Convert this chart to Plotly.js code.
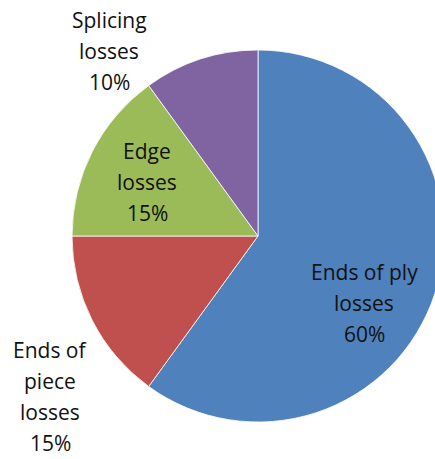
<!DOCTYPE html>
<html>
<head>
<meta charset="utf-8">
<script src="https://cdn.plot.ly/plotly-3.0.1.min.js"></script>
<style>
html,body{margin:0;padding:0;overflow:hidden;background:#fff;}
#chart{width:460px;height:459px;}
</style>
</head>
<body>
<div id="chart"></div>
<script>
const labels = ['Ends of ply losses', 'Ends of piece losses', 'Edge losses', 'Splicing losses'];
const labelLines = [['Ends of ply', 'losses'], ['Ends of', 'piece', 'losses'], ['Edge', 'losses'], ['Splicing', 'losses']];
const values = [60, 15, 15, 10];
const colors = ['#4F81BD', '#C0504D', '#9BBB59', '#8064A2'];

// label anchor positions (pixels) – layout only
const labelPos = [[364, 272], [50, 350], [147, 151], [109, 20]];
const lineGap = 31;

const W = 460, H = 459;
const annotations = [];
const total = values.reduce((a, b) => a + b, 0);
labels.forEach((lab, i) => {
  const lines = labelLines[i].concat([Math.round(values[i] / total * 100) + '%']);
  lines.forEach((t, j) => {
    annotations.push({
      xref: 'paper', yref: 'paper',
      x: (labelPos[i][0] - 72) / 372,
      y: 1 - ((labelPos[i][1] + j * lineGap) - 50) / 372,
      text: t, showarrow: false,
      xanchor: 'center', yanchor: 'middle',
      borderpad: 0,
      font: {family: '"Open Sans", sans-serif', size: 21, color: '#111111'}
    });
  });
});

Plotly.newPlot('chart', [{
  type: 'pie',
  labels: labels,
  values: values,
  sort: false,
  direction: 'clockwise',
  rotation: 0,
  textinfo: 'none',
  hoverinfo: 'label+percent',
  marker: {colors: colors, line: {color: '#ffffff', width: 0.8}}
}], {
  width: W, height: H,
  margin: {l: 72, r: W - 444, t: 50, b: H - 422, pad: 0},
  showlegend: false,
  paper_bgcolor: '#ffffff',
  annotations: annotations
}, {displayModeBar: false, staticPlot: true});
</script>
</body>
</html>
